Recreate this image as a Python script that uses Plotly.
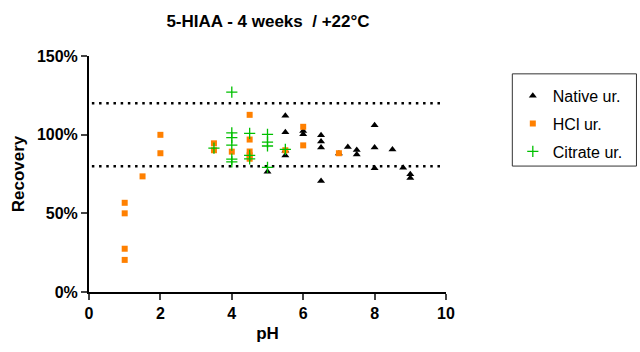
import plotly.graph_objects as go

# Native urine (black triangles)
native_ph = [5, 5.5, 5.5, 5.5, 5.5, 6, 6, 6.5, 6.5, 6.5, 6.5, 7, 7.25, 7.5, 7.5, 8, 8, 8, 8.5, 8.8, 9, 9]
native_rec = [76.4, 112.0, 101.6, 89.7, 86.8, 102.3, 100.2, 99.7, 95.6, 91.8, 70.6, 88.0, 92.2, 90.3, 87.4, 106.0, 91.8, 78.6, 90.5, 79.0, 74.8, 72.5]

# HCl urine (orange squares)
hcl_ph = [1, 1, 1, 1, 1.5, 2, 2, 3.5, 3.5, 4, 4.5, 4.5, 4.5, 4.5, 4.5, 5.5, 6, 6, 7]
hcl_rec = [56.7, 50.0, 27.5, 20.4, 73.5, 99.9, 88.2, 94.5, 90.1, 89.2, 112.6, 96.9, 89.3, 86.9, 84.7, 90.1, 105.0, 93.2, 88.2]

# Citrate urine (green crosses)
cit_ph = [3.5, 4, 4, 4, 4, 4, 4, 4.5, 4.5, 4.5, 5, 5, 5, 5, 5.5]
cit_rec = [91.4, 127.1, 101.2, 98.1, 93.4, 84.4, 82.7, 100.8, 86.9, 84.6, 100.2, 95.3, 92.8, 79.2, 90.7]

limits = [80, 120]
x_ticks = [0, 2, 4, 6, 8, 10]
y_ticks = [0, 50, 100, 150]
y_tick_labels = ["0%", "50%", "100%", "150%"]

FONT = "Liberation Sans, Arial, sans-serif"
W, H = 640, 352
ML, MR, MT, MB = 89, 193, 56, 58
PW, PH = W - ML - MR, H - MT - MB


def px_x(p):
    return (p - ML) / PW


def px_y(p):
    return (H - MB - p) / PH


fig = go.Figure()

fig.add_trace(go.Scatter(
    x=native_ph, y=native_rec, mode="markers", name="Native ur.", legendgroup="a",
    marker=dict(symbol="triangle-up", size=7, color="black"),
))
fig.add_trace(go.Scatter(
    x=hcl_ph, y=hcl_rec, mode="markers", name="HCl ur.", legendgroup="b",
    marker=dict(symbol="square", size=6, color="#FF8000"),
))
fig.add_trace(go.Scatter(
    x=cit_ph, y=cit_rec, mode="markers", name="Citrate ur.", legendgroup="c",
    marker=dict(symbol="cross-thin", size=8, color="#00C000",
                line=dict(color="#00C000", width=1.3)),
))

for lim in limits:
    fig.add_shape(type="line", xref="x", yref="y", x0=0.08, x1=9.9, y0=lim, y1=lim,
                  line=dict(color="black", width=2.5, dash="2.5px,4.7px"), layer="below")

# legend frame
fig.add_shape(type="rect", xref="paper", yref="paper",
              x0=px_x(513.5), x1=px_x(638), y0=px_y(74), y1=px_y(167),
              line=dict(color="#333333", width=1))

fig.update_layout(
    width=W, height=H,
    margin=dict(l=ML, r=MR, t=MT, b=MB),
    paper_bgcolor="white", plot_bgcolor="white",
    font=dict(family=FONT, color="black"),
    title=dict(text="5-HIAA - 4 weeks  / +22°C", x=268 / W, xanchor="center",
               y=1 - 21 / H, yanchor="middle",
               font=dict(size=17, weight="bold", family=FONT)),
    showlegend=True,
    legend=dict(x=px_x(514), xanchor="left", y=px_y(79), yanchor="top",
                borderwidth=0, bgcolor="rgba(0,0,0,0)",
                font=dict(size=16, family=FONT),
                tracegroupgap=4, traceorder="grouped", itemsizing="trace"),
)

fig.update_xaxes(
    range=[0, 10], tickvals=x_ticks, ticks="outside", ticklen=6, tickwidth=2,
    showline=True, linewidth=2, linecolor="black", showgrid=False, zeroline=False,
    tickfont=dict(size=16, weight="bold", family=FONT),
    title=dict(text="pH", font=dict(size=17, weight="bold", family=FONT), standoff=6),
)
fig.update_yaxes(
    range=[0, 150], tickvals=y_ticks, ticktext=y_tick_labels, ticks="outside",
    ticklen=6, tickwidth=2,
    showline=True, linewidth=2, linecolor="black", showgrid=False, zeroline=False,
    tickfont=dict(size=16, weight="bold", family=FONT),
    title=dict(text="Recovery", font=dict(size=17, weight="bold", family=FONT), standoff=8),
)

fig.write_html("out.html", config={"displayModeBar": False},
               post_script="document.body.style.margin='0';")
